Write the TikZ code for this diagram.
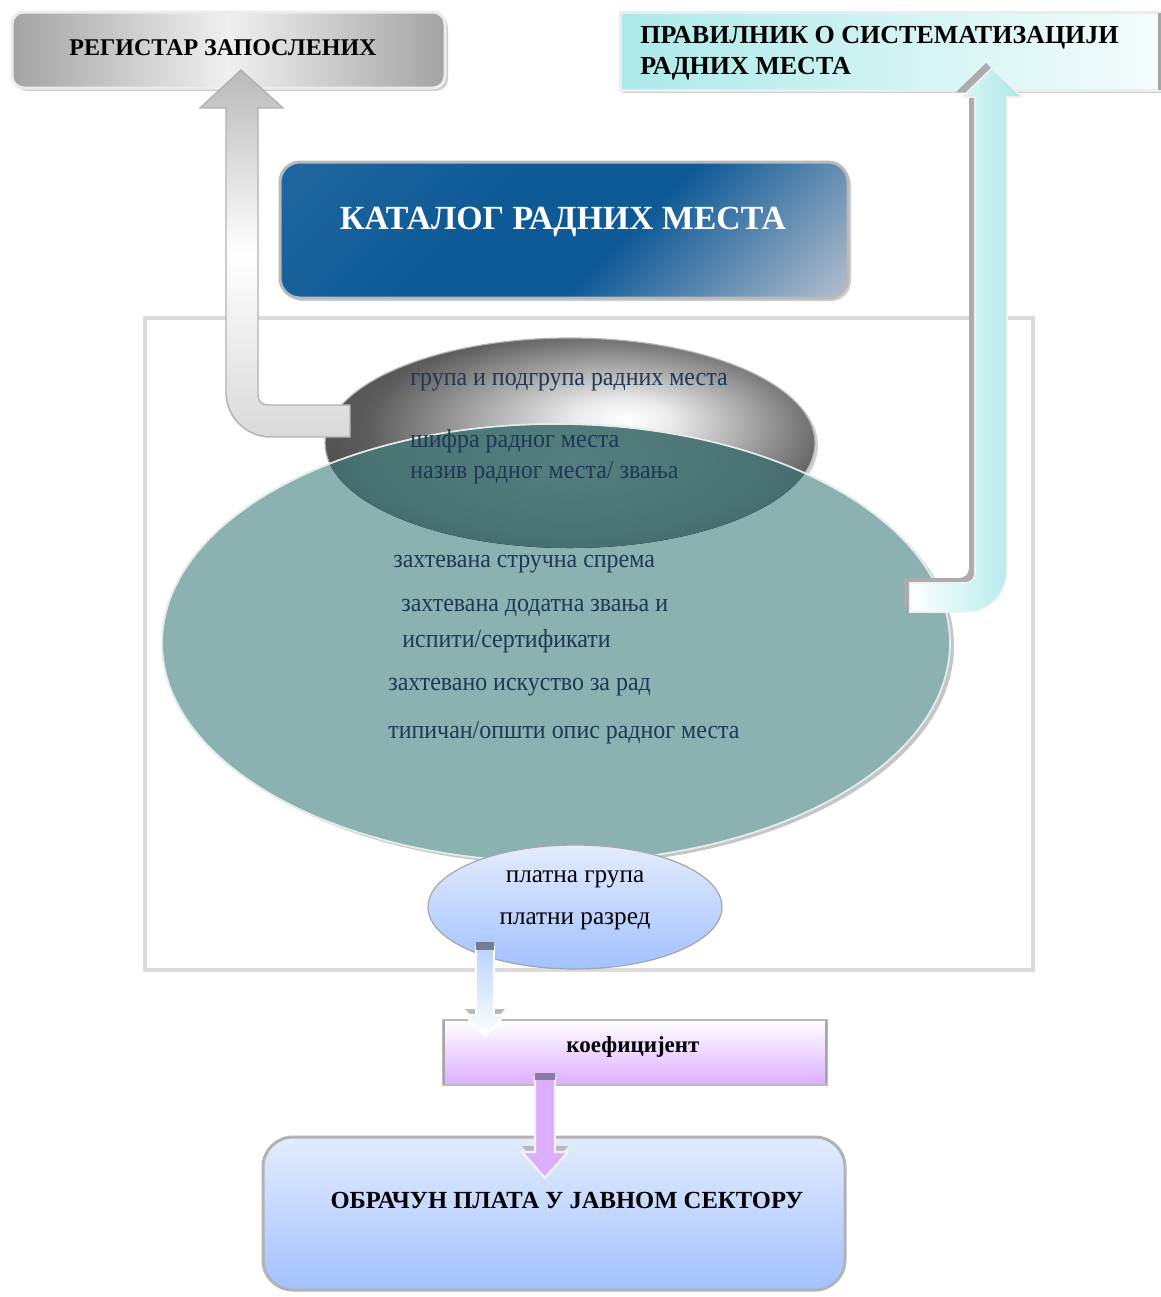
\documentclass[tikz,border=0pt]{standalone}
\usepackage{fontspec}
\setmainfont{Liberation Serif}
\newfontfamily\condserif[FakeStretch=0.92]{Liberation Serif}
\usetikzlibrary{shadows,shapes.geometric}
\definecolor{catblue}{HTML}{0E5A97}
\definecolor{catgray}{HTML}{B8C1CE}
\definecolor{tealA}{HTML}{8BB2B0}
\definecolor{tealdark}{HTML}{2A4C4C}
\definecolor{tealmid}{HTML}{557F7F}
\definecolor{navytext}{HTML}{1E3856}
\definecolor{cyanA}{HTML}{ACE9E9}
\definecolor{lblueA}{HTML}{E3ECFD}
\definecolor{lblueB}{HTML}{A2C1FF}
\definecolor{violetA}{HTML}{DCAEFF}
\definecolor{capblue}{HTML}{6E7C96}
\definecolor{capviolet}{HTML}{8A7AA4}
\pgfdeclarehorizontalshading{catsh}{100bp}{color(0bp)=(catblue!88!white); color(40bp)=(catblue); color(57bp)=(catblue); color(86bp)=(catgray); color(100bp)=(catgray)}
\pgfdeclareradialshading{darkell}{\pgfpoint{6bp}{6bp}}{color(0bp)=(white); color(5bp)=(white!92!black); color(24bp)=(black!64); color(50bp)=(black!88)}
\pgfdeclareradialshading{overlapsh}{\pgfpoint{0bp}{-4bp}}{color(0bp)=(tealmid); color(20bp)=(tealmid!75!tealdark); color(50bp)=(tealdark)}
\tikzset{
  shad/.style={drop shadow={shadow xshift=1.5pt, shadow yshift=-1.5pt, fill=gray!70, opacity=0.55}},
  headtext/.style={font=\fontsize{13}{15.5}\selectfont\bfseries, text=black},
  elltext/.style={font=\condserif\fontsize{13}{14}\selectfont, text=navytext, anchor=west, inner sep=0pt},
  regbox/.style={rectangle, rounded corners=6pt, minimum width=216.5pt, minimum height=38pt,
    draw=white!85!gray, line width=1.5pt, left color=gray!72, right color=gray!72, middle color=gray!12, shad},
  pravbox/.style={rectangle, minimum width=270pt, minimum height=39pt, draw=gray!15, line width=1.5pt,
    left color=cyanA, right color=white!88!cyanA, shad},
  catbox/.style={rectangle, rounded corners=10pt, minimum width=284pt, minimum height=68pt,
    draw=gray!55, line width=1.5pt, shading=catsh, shading angle=-45, shad},
  koefbox/.style={rectangle, minimum width=192pt, minimum height=32.5pt, draw=gray!55, line width=0.8pt,
    top color=white, bottom color=violetA},
  obrbox/.style={rectangle, rounded corners=15pt, minimum width=291pt, minimum height=76.5pt,
    draw=gray!60, line width=1.5pt, top color=lblueA, bottom color=lblueB},
  paytext/.style={font=\fontsize{12.6}{14}\selectfont, text=black},
}
\begin{document}
\begin{tikzpicture}[x=0.5pt,y=-0.5pt]
\useasboundingbox[fill=white] (0,0) rectangle (1161,1297);

% outer frame
\draw[gray!28, line width=1.6pt] (145,318) rectangle (1033,970);

% top boxes
\node[regbox] (reg) at (228.5,50) {};
\node[headtext, font=\fontsize{12}{15.5}\selectfont\bfseries] (regtext) at (223,48) {РЕГИСТАР ЗАПОСЛЕНИХ};
\node[pravbox] (prav) at (890,51) {};
\draw[gray!70, line width=1.5pt] (1159,13) -- (1159,90);
\node[headtext, anchor=west, align=left, inner sep=0pt] (pravtext) at (640,53) {ПРАВИЛНИК О СИСТЕМАТИЗАЦИЈИ\\РАДНИХ МЕСТА};
\node[catbox] (cat) at (564,230) {};
\node[font=\fontsize{16.9}{18}\selectfont\bfseries, text=white] (cattext) at (563,222) {КАТАЛОГ РАДНИХ МЕСТА};

% dark ellipse
\node[ellipse, minimum width=245pt, minimum height=105pt, draw=gray!60, line width=0.6pt,
  shading=darkell, drop shadow={shadow xshift=1.5pt, shadow yshift=-1.2pt, fill=gray!60, opacity=0.6}] (grp) at (570,443) {};
% teal ellipse
\node[ellipse, minimum width=394pt, minimum height=219pt, fill=tealA, draw=white!70!tealA, line width=0.8pt,
  drop shadow={shadow xshift=2pt, shadow yshift=-1.5pt, fill=gray!75, opacity=0.6}] (req) at (556,643) {};
% overlap
\begin{scope}
  \clip (556,643) ellipse [x radius=197pt, y radius=109.5pt];
  \fill[shading=overlapsh] (570,443) ellipse [x radius=122.5pt, y radius=52.5pt];
\end{scope}
\draw[white!75!tealA, line width=0.8pt] (556,643) ellipse [x radius=197pt, y radius=109.5pt];

% left block arrow (to register)
\path[draw=gray!60, line width=0.7pt, top color=gray!55, bottom color=gray!30, middle color=white]
  (350,405) -- (268,405) .. controls (262,405) and (258,401) .. (258,395) -- (258,108) -- (283,108)
  -- (241,70) -- (200,108) -- (226,108) -- (226,392) .. controls (226,417) and (246,437) .. (271,437)
  -- (350,437) -- cycle;
% right block arrow (to rulebook), shadow first
\fill[gray!65, shift={(-6,-5)}]
  (910,583) -- (965,583) .. controls (971,583) and (975,579) .. (975,573) -- (975,97) -- (962,97)
  -- (992,68) -- (1022,97) -- (1007,97) -- (1007,570) .. controls (1007,594) and (989,612) .. (965,612)
  -- (910,612) -- cycle;
\path[draw=gray!12, line width=0.8pt, left color=white, right color=cyanA]
  (910,583) -- (965,583) .. controls (971,583) and (975,579) .. (975,573) -- (975,97) -- (962,97)
  -- (992,68) -- (1022,97) -- (1007,97) -- (1007,570) .. controls (1007,594) and (989,612) .. (965,612)
  -- (910,612) -- cycle;

% texts in ellipses
\node[elltext] (t1) at (410,382) {група и подгрупа радних места};
\node[elltext] (t2) at (410,441) {шифра радног места};
\node[elltext] (t3) at (410,473) {назив радног места/ звања};
\node[elltext] (t4) at (393,564) {захтевана стручна спрема};
\node[elltext] (t5) at (401,608) {захтевана додатна звања и};
\node[elltext] (t6) at (402,641) {испити/сертификати};
\node[elltext] (t7) at (388,687) {захтевано искуство за рад};
\node[elltext] (t8) at (388,733) {типичан/општи опис радног места};

% pay ellipse
\node[ellipse, minimum width=147pt, minimum height=62pt, draw=gray!70, line width=0.6pt,
  top color=lblueA, bottom color=lblueB] (pay) at (575,907) {};
\node[paytext] (p1) at (575,879) {платна група};
\node[paytext] (p2) at (575,921) {платни разред};

% coefficient and payroll boxes
\node[koefbox] (koef) at (635,1052.5) {};
\draw[gray!70, line width=1pt] (444,1021) -- (444,1084) (826,1021) -- (826,1084);
\node[headtext, font=\fontsize{11.5}{14}\selectfont\bfseries] (kt) at (633,1047) {коефицијент};
\node[obrbox] (obr) at (554,1213.5) {};
\node[font=\fontsize{12.3}{14}\selectfont\bfseries, text=black] (ot) at (567,1200) {ОБРАЧУН ПЛАТА У ЈАВНОМ СЕКТОРУ};

% small arrow 1 (pay -> koef)
\fill[gray!55, shift={(0,-6)}] (465,1015) -- (505,1015) -- (485,1037) -- cycle;
\path[draw=white, line width=0.8pt, top color=lblueB!60!lblueA, bottom color=white]
  (476,947) -- (494,947) -- (494,1015) -- (505,1015) -- (485,1037) -- (465,1015) -- (476,1015) -- cycle;
\fill[capblue] (476,942) rectangle (494,950);
% small arrow 2 (koef -> obr)
\fill[gray!55, shift={(0,-6)}] (522,1152) -- (568,1152) -- (545,1178) -- cycle;
\path[draw=white!90!gray, line width=1.2pt, fill=violetA]
  (535,1078) -- (555,1078) -- (555,1152) -- (568,1152) -- (545,1178) -- (522,1152) -- (535,1152) -- cycle;
\fill[capviolet] (535,1073) rectangle (555,1080);
\end{tikzpicture}
\end{document}
